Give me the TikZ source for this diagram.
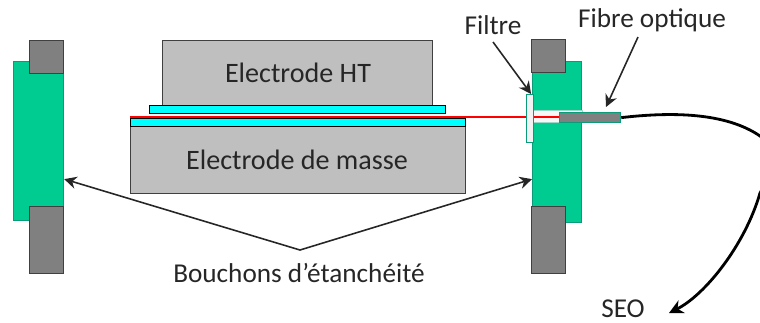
\documentclass[tikz,border=0pt]{standalone}
\usepackage{fontspec}
\setmainfont{Carlito}
\usetikzlibrary{positioning,arrows.meta,calc}
\definecolor{jade}{HTML}{00CC92}
\definecolor{jadedark}{HTML}{0A9C78}
\definecolor{plug}{HTML}{808080}
\definecolor{electrode}{HTML}{BFBFBF}
\definecolor{spacer}{HTML}{00FFFF}
\tikzset{
  block/.style={draw=#1, line width=0.7pt, minimum width=0pt, inner sep=0pt, anchor=north west},
  label/.style={font=\fontsize{15.5}{15.5}\selectfont, text=black!85, inner sep=0pt},
  pointer/.style={-{Stealth[length=7pt,width=7pt]}, line width=0.9pt, black!85},
  px/.style={minimum width=#1*0.02cm},
  py/.style={minimum height=#1*0.02cm}
}
\begin{document}
\begin{tikzpicture}[x=0.02cm,y=-0.02cm]
  \useasboundingbox (0,0) rectangle (760,322);

  % Left wall
  \node[block=jadedark, fill=jade, px=50, py=159] (wallL) at (13,61) {};
  \node[block=black!75, fill=plug, px=34, py=33] (plugLT) at (29,40) {};
  \node[block=black!75, fill=plug, px=34, py=67] (plugLB) at (29,206) {};

  % Right wall
  \node[block=jadedark, fill=jade, px=49, py=161] (wallR) at (532,61) {};
  \node[block=black!75, fill=plug, px=34, py=33] (plugRT) at (531,39) {};
  \node[block=black!75, fill=plug, px=34, py=67] (plugRB) at (531,206) {};
  \node[block=jadedark!40, fill=white!97!black, px=49, py=12] (channel) at (533,110) {};

  % Electrodes
  \node[block=black!75, fill=electrode, px=270, py=65] (elecHT) at (162,40) {};
  \node[label, font=\fontsize{16}{16}\selectfont] (elecHTtxt) at (298,73) {Electrode HT};
  \node[block=black, fill=spacer, px=296, py=8] (spacerHT) at (149,105) {};
  \node[block=black!75, fill=electrode, px=335, py=67] (elecM) at (130,126) {};
  \node[label, font=\fontsize{16}{16}\selectfont] (elecMtxt) at (297,160) {Electrode de masse};
  \node[block=black, fill=spacer, px=335, py=8] (spacerM) at (130,118) {};

  % Beam
  \coordinate (beamL) at (130,117);
  \coordinate (beamR) at (560,117);
  \draw[red, line width=1.3pt] (beamL) -- (beamR);
  \node[block=jadedark, fill=white!95!black, px=7, py=48] (filtre) at (526,94) {};

  % Fibre
  \node[block=jadedark, fill=plug, px=61, py=10] (fibre) at (559,112) {};
  \coordinate (seoEnd) at (669,313);
  \draw[-{Stealth[length=8pt,width=8pt]}, line width=1.6pt, black]
    (fibre.east) .. controls (670,112) and (725,112) .. (760,136)
    .. controls (785,160) and (770,175) .. (760,193)
    .. controls (745,245) and (705,295) .. (seoEnd);

  % Labels
  \node[label] (filtreTxt) at (493,25) {Filtre};
  \node[label] (fibreTxt) at (652,20) {Fibre optique};
  \node[label] (bouchons) at (299,273) {Bouchons d’étanchéité};
  \node[label] (seo) at (623,309) {SEO};
  \coordinate (bouchonsTop) at (300,250);
  \coordinate (filtreStart) at (493,42);
  \coordinate (fibreStart) at (638,37);
  \coordinate (fibreTip) at (606,107);

  % Pointers
  \draw[pointer] (filtreStart) -- ($(filtre.north)+(1,0)$);
  \draw[pointer] (fibreStart) -- (fibreTip);
  \draw[pointer] (bouchonsTop) -- ($(wallL.east)+(0,38)$);
  \draw[pointer] (bouchonsTop) -- ($(wallR.west)+(0,37)$);
\end{tikzpicture}
\end{document}
